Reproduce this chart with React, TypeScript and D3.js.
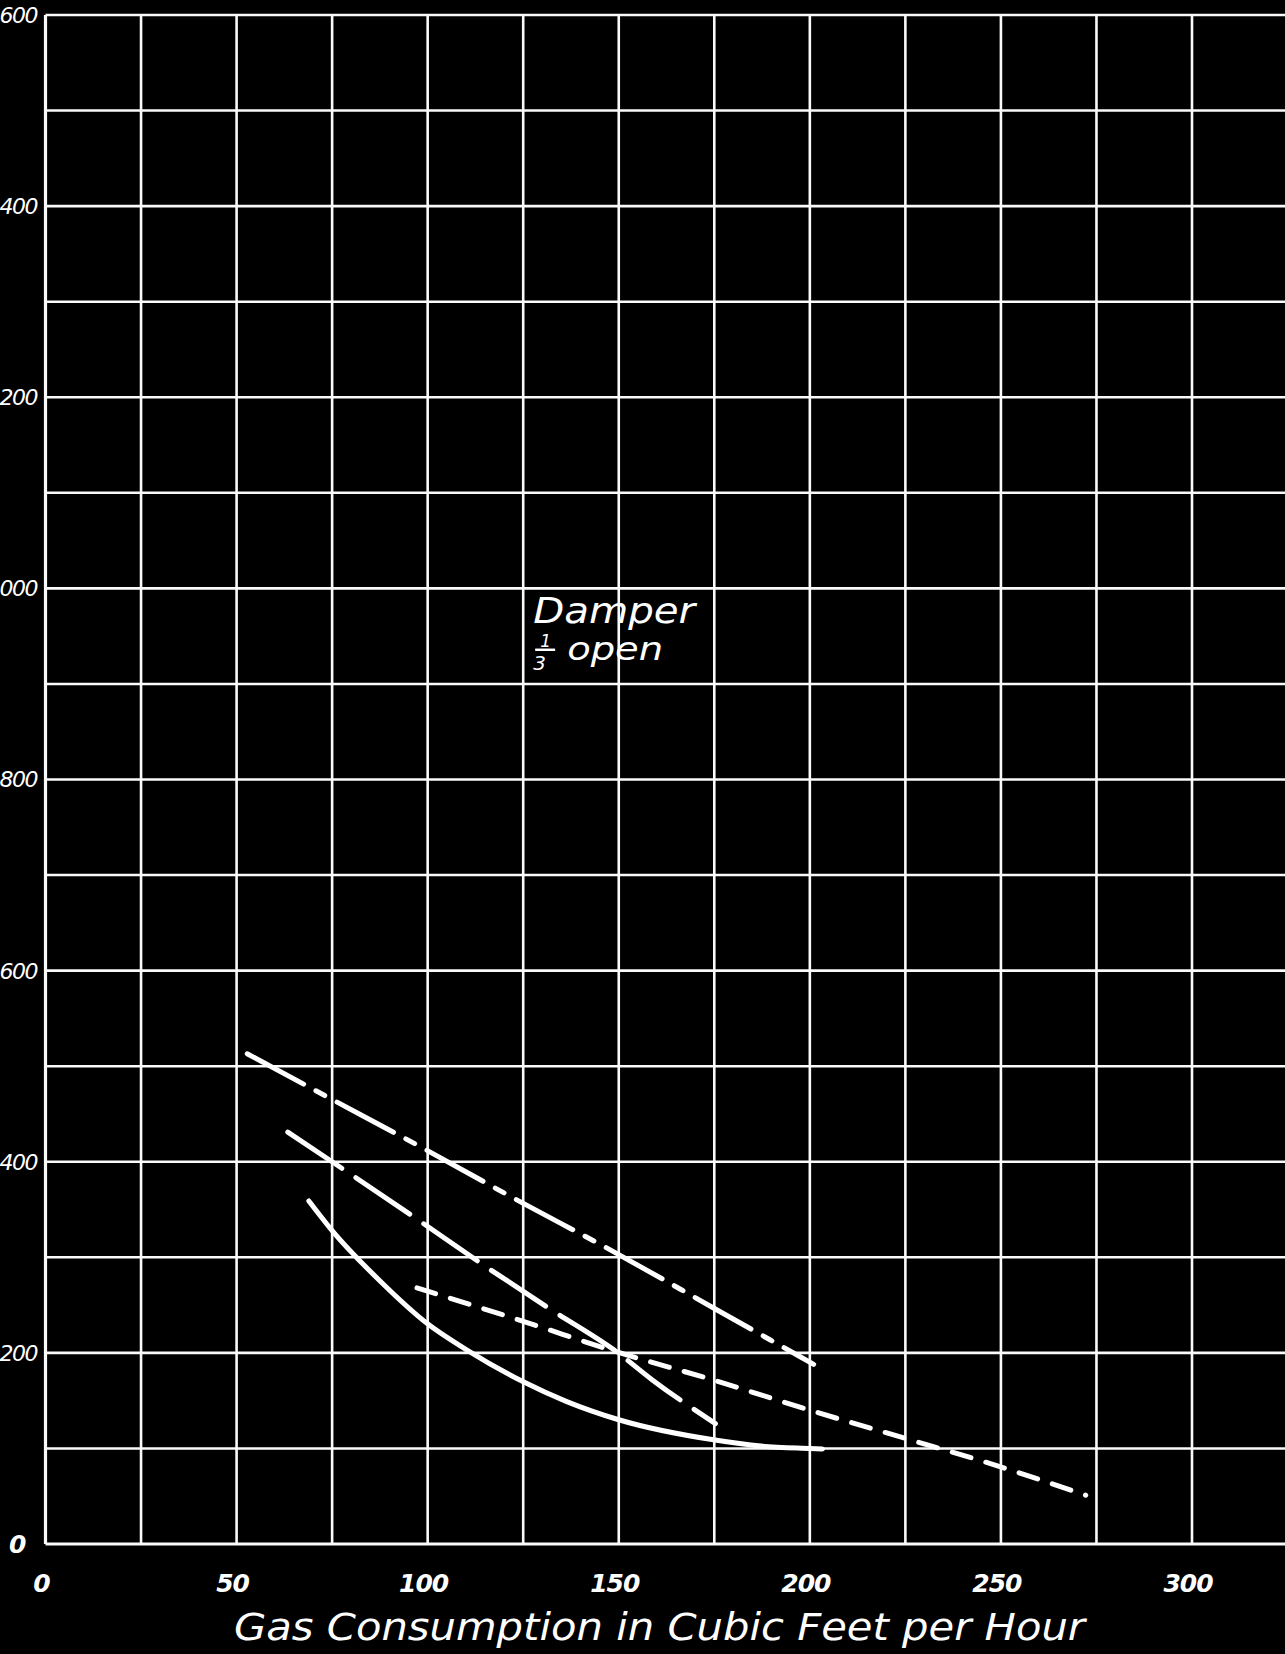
import React from 'react';
import * as d3 from 'd3';

const WIDTH = 1285;
const HEIGHT = 1654;

// grid every 25 cu ft / 100 units, labels every 50 / 200
const xGridLines = [0, 25, 50, 75, 100, 125, 150, 175, 200, 225, 250, 275, 300, 325];
const yGridLines = [0, 100, 200, 300, 400, 500, 600, 700, 800, 900, 1000, 1100, 1200, 1300, 1400, 1500, 1600];
const xTickLabels = [0, 50, 100, 150, 200, 250, 300];
const yTickLabels = [0, 200, 400, 600, 800, 1000, 1200, 1400, 1600];

// curves (x = gas consumption, y = value)
const dashDotX = [52.8, 74.6, 99.8, 122.9, 148.6, 174.8, 201];
const dashDotY = [513, 466, 412, 361, 306, 247, 188];

const longDashX = [63.4, 75, 97.2, 114.6, 132, 149.5, 158.7, 175.3];
const longDashY = [431, 400, 340, 292, 246, 201, 172, 126];

const shortDashX = [97.2, 125, 149.5, 174.4, 200, 225, 249.7, 272.2];
const shortDashY = [268, 233, 201, 172, 140, 110.5, 81, 51];

const solidX = [68.9, 75, 87.6, 99.8, 110.3, 124.9, 136.4, 150, 174.8, 187.2, 200, 203.3];
const solidY = [359, 328, 275, 231, 203, 170, 149, 130, 109, 102.5, 100, 99.5];

const xTitle = 'Gas Consumption in Cubic Feet per Hour';
const noteLine1 = 'Damper';
const noteLine2 = 'open';

const FONT = "'DejaVu Sans', 'Liberation Sans', sans-serif";

const x = d3.scaleLinear().domain([0, 300]).range([45.5, 1192]);
const y = d3.scaleLinear().domain([0, 1600]).range([1544, 15]);

const line = d3
  .line<[number, number]>()
  .x(d => x(d[0]))
  .y(d => y(d[1]))
  .curve(d3.curveMonotoneX);

const zip = (xs: number[], ys: number[]) => xs.map((v, i) => [v, ys[i]] as [number, number]);

const series = [
  { name: 'dashdot', pts: zip(dashDotX, dashDotY), dash: '64 14 10 14' },
  { name: 'longdash', pts: zip(longDashX, longDashY), dash: '65 17' },
  { name: 'shortdash', pts: zip(shortDashX, shortDashY), dash: '19.5 15.5' },
  { name: 'solid', pts: zip(solidX, solidY), dash: 'none' },
];

export default function App() {
  const x0 = x(0);
  const xMax = x(325);
  const yTop = y(1600);
  const yBottom = y(0);
  const nx = x(127.6);
  const ny = y(964);

  return (
    <svg
      width={WIDTH}
      height={HEIGHT}
      style={{ position: 'absolute', left: 0, top: 0, background: '#000' }}
    >
      <rect x={0} y={0} width={WIDTH} height={HEIGHT} fill="#000" />

      {/* grid */}
      <g stroke="#fafafa">
        {yGridLines.map(v => (
          <line key={'h' + v} x1={x0} x2={xMax} y1={y(v)} y2={y(v)} strokeWidth={v === 0 ? 3.2 : 2.6} />
        ))}
        {xGridLines.map(v => (
          <line key={'v' + v} x1={x(v)} x2={x(v)} y1={yTop} y2={yBottom} strokeWidth={v === 0 ? 3.2 : 2.6} />
        ))}
      </g>

      {/* y labels */}
      <g fill="#fff" fontFamily={FONT} fontStyle="italic">
        {yTickLabels.map(v => (
          <text
            key={'yl' + v}
            x={v === 0 ? 25 : 37}
            y={y(v)}
            dy="0.36em"
            textAnchor="end"
            fontSize={v === 0 ? 25 : 22}
            fontWeight={v === 0 ? 'bold' : 'normal'}
            letterSpacing={-1.5}
          >
            {v}
          </text>
        ))}
      </g>

      {/* x labels */}
      <g fill="#fff" fontFamily={FONT} fontStyle="italic" fontSize={25}>
        {xTickLabels.map(v => (
          <text key={'xl' + v} x={x(v) - 4} y={1592} textAnchor="middle" letterSpacing={-1} fontWeight="bold">
            {v}
          </text>
        ))}
        <text x={234} y={1640} fontSize={37} textLength={851} lengthAdjust="spacingAndGlyphs">
          {xTitle}
        </text>
      </g>

      {/* curves */}
      <g fill="none" stroke="#fff" strokeWidth={5} strokeLinecap="round" strokeLinejoin="round">
        {series.map(s => (
          <path key={s.name} d={line(s.pts) || ''} strokeDasharray={s.dash} />
        ))}
      </g>

      {/* annotation */}
      <g fill="#fff" fontFamily={FONT} fontStyle="italic">
        <text x={nx} y={ny} fontSize={36} textLength={162} lengthAdjust="spacingAndGlyphs">
          {noteLine1}
        </text>
        <text x={nx + 7} y={ny + 24} fontSize={17}>1</text>
        <line x1={nx + 2} x2={nx + 22} y1={ny + 27} y2={ny + 27} stroke="#fff" strokeWidth={2.5} />
        <text x={nx} y={ny + 47} fontSize={20}>3</text>
        <text x={nx + 34} y={ny + 37} fontSize={32} textLength={96} lengthAdjust="spacingAndGlyphs">
          {noteLine2}
        </text>
      </g>
    </svg>
  );
}
